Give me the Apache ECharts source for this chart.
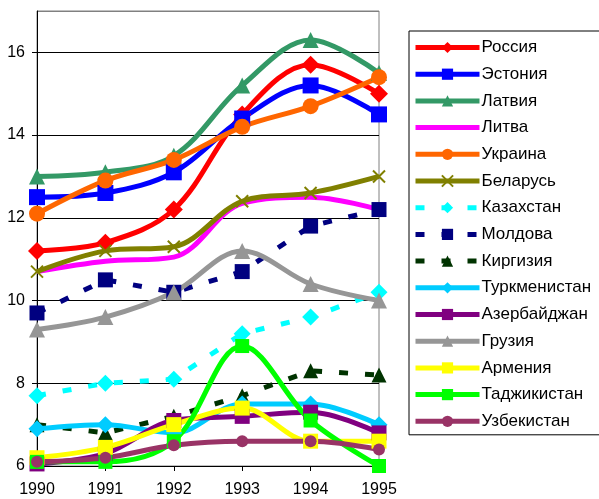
<!DOCTYPE html>
<html lang="ru">
  <head>
    <meta charset="utf-8" />
    <script src="https://cdn.jsdelivr.net/npm/echarts@6/dist/echarts.min.js"></script>
    <style>
      html, body { margin: 0; padding: 0; background: #fff; }
      #chart { width: 599px; height: 499px; }
    </style>
  </head>
  <body>
    <div id="chart"></div>
    <script>
      var years = ['1990', '1991', '1992', '1993', '1994', '1995']

      var russia = [11.2, 11.4, 12.2, 14.5, 15.7, 15.0]
      var estonia = [12.5, 12.6, 13.1, 14.4, 15.2, 14.5]
      var latvia = [13.0, 13.1, 13.5, 15.2, 16.3, 15.5]
      var lithuania = [10.7, 10.95, 11.05, 12.35, 12.5, 12.2]
      var ukraine = [12.1, 12.9, 13.4, 14.2, 14.7, 15.4]
      var belarus = [10.7, 11.2, 11.3, 12.4, 12.6, 13.0]
      var kazakhstan = [7.7, 8.0, 8.1, 9.2, 9.6, 10.2]
      var moldova = [9.7, 10.5, 10.2, 10.7, 11.8, 12.2]
      var kyrgyzstan = [7.0, 6.8, 7.2, 7.7, 8.3, 8.2]
      var turkmenistan = [6.9, 7.0, 6.8, 7.5, 7.5, 7.0]
      var azerbaijan = [6.05, 6.3, 7.1, 7.2, 7.3, 6.8]
      var georgia = [9.3, 9.6, 10.2, 11.2, 10.4, 10.0]
      var armenia = [6.2, 6.45, 7.0, 7.4, 6.6, 6.6]
      var tajikistan = [6.1, 6.1, 6.6, 8.9, 7.1, 6.0]
      var uzbekistan = [6.1, 6.2, 6.5, 6.6, 6.6, 6.4]

      var crossPath = 'path://M0,0L10,10M10,0L0,10'

      function line (name, data, color, symbol, size, dashed) {
        return {
          name: name,
          type: 'line',
          data: data,
          smooth: dashed ? false : 0.35,
          symbol: symbol,
          symbolSize: size,
          showSymbol: symbol !== 'none',
          itemStyle: { color: color },
          lineStyle: { color: color, width: 5, type: dashed ? [9, 17] : 'solid' },
          emphasis: { disabled: true },
          animation: false
        }
      }

      var series = [
        line('Россия', russia, '#ff0000', 'diamond', 18),
        line('Эстония', estonia, '#0000ff', 'rect', 16),
        line('Латвия', latvia, '#339966', 'triangle', 16),
        line('Литва', lithuania, '#ff00ff', 'none', 0),
        line('Украина', ukraine, '#ff6600', 'circle', 16),
        line('Беларусь', belarus, '#808000', crossPath, 12),
        line('Казахстан', kazakhstan, '#00ffff', 'diamond', 17, true),
        line('Молдова', moldova, '#000080', 'rect', 15, true),
        line('Киргизия', kyrgyzstan, '#003300', 'triangle', 15, true),
        line('Туркменистан', turkmenistan, '#00ccff', 'diamond', 17),
        line('Азербайджан', azerbaijan, '#800080', 'rect', 15),
        line('Грузия', georgia, '#969696', 'triangle', 16),
        line('Армения', armenia, '#ffff00', 'rect', 15),
        line('Таджикистан', tajikistan, '#00ff00', 'rect', 14),
        line('Узбекистан', uzbekistan, '#993366', 'circle', 12)
      ]
      // cross marker is drawn as a stroke
      series[5].itemStyle = { color: '#ffffff', borderColor: '#808000', borderWidth: 2 }

      var legendData = series.map(function (s) {
        if (s.symbol === 'none') return { name: s.name, itemStyle: { opacity: 0 } }
        return { name: s.name }
      })

      var chart = echarts.init(document.getElementById('chart'))
      chart.setOption({
        animation: false,
        textStyle: { fontFamily: 'Liberation Sans, Arial, sans-serif' },
        grid: {
          left: 37, top: 11, right: 220, bottom: 33,
          show: true, borderColor: '#808080', borderWidth: 1
        },
        legend: {
          orient: 'vertical',
          left: 409, top: 31,
          padding: [8, 60, 5, 4],
          borderColor: '#000', borderWidth: 1,
          itemWidth: 64, itemHeight: 14, itemGap: 9.7,
          lineStyle: { width: 5 },
          textStyle: {
            fontSize: 17, color: '#000',
            fontFamily: 'Liberation Sans, Arial, sans-serif', padding: [0, 0, 0, -3]
          },
          data: legendData
        },
        xAxis: {
          type: 'category',
          data: years,
          boundaryGap: false,
          axisLine: { lineStyle: { color: '#000', width: 1 } },
          axisTick: { show: true, alignWithLabel: true, length: 5, lineStyle: { color: '#000' } },
          axisLabel: { color: '#000', fontSize: 16, margin: 16 },
          splitLine: { show: false }
        },
        yAxis: {
          type: 'value',
          min: 6, max: 17, interval: 2,
          axisLine: { show: true, lineStyle: { color: '#000', width: 1 } },
          axisTick: { show: true, length: 5, lineStyle: { color: '#000' } },
          axisLabel: { color: '#000', fontSize: 16, margin: 12, showMaxLabel: false },
          splitLine: {
            show: true,
            lineStyle: { color: ['#000', '#000', '#000', '#000', '#000', '#000', '#808080'], width: 1 }
          }
        },
        series: series
      })
    </script>
  </body>
</html>
